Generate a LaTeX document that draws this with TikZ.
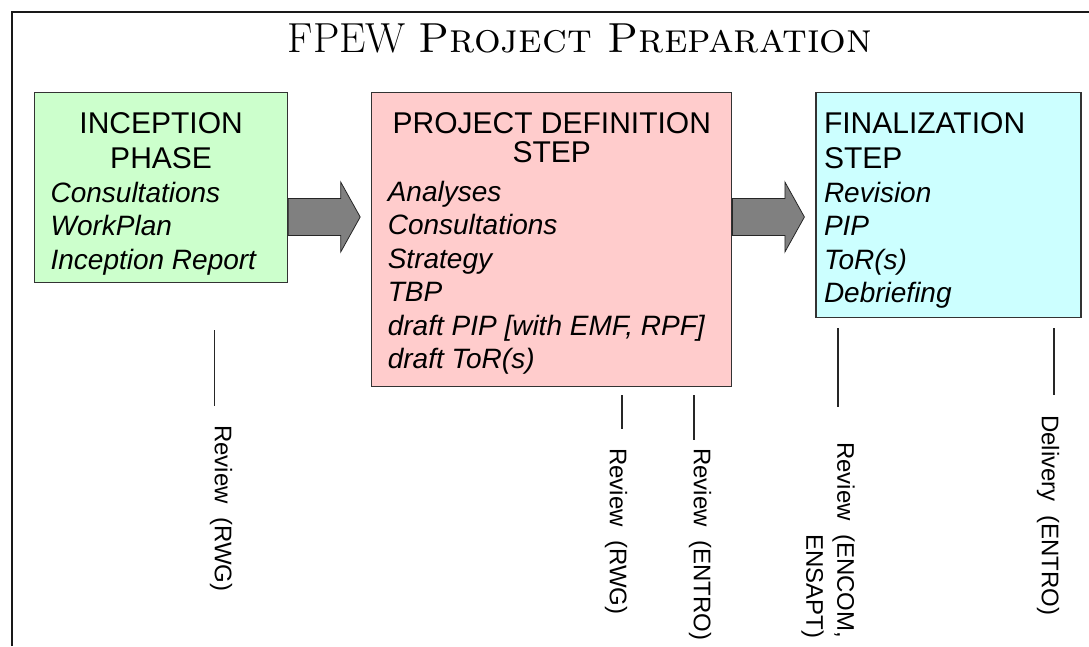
\documentclass[tikz,border=0pt]{standalone}
\usepackage{fontspec}
\setsansfont{Liberation Sans}
\usetikzlibrary{positioning,calc}
\definecolor{incepfill}{RGB}{204,255,204}
\definecolor{defnfill}{RGB}{255,204,204}
\definecolor{finalfill}{RGB}{204,255,255}
\definecolor{arrowgray}{RGB}{128,128,128}
\newcommand{\stagehead}{\sffamily\fontsize{30}{35}\selectfont}
\newcommand{\stageitem}{\sffamily\itshape\fontsize{28}{33.5}\selectfont}

\begin{document}
\begin{tikzpicture}[
  x=1pt, y=1pt,
  stage/.style={draw=black!80, line width=1.2pt, inner ysep=20pt, inner xsep=16pt,
    anchor=north west},
  blockarrow/.style={fill=arrowgray, draw=black!85, line width=0.8pt, line join=miter},
  tick/.style={draw=black!85, line width=1.2pt},
  milestone/.style={rotate=-90, anchor=west, inner sep=0pt,
    font=\sffamily\fontsize{24}{31}\selectfont},
]
\useasboundingbox (0,0) rectangle (1089,-646);
% frame and title
\draw[line width=2pt, black!90] (11.5,-646) -- (11.5,-12.3) -- (1089,-12.3);
\node[anchor=base, font=\fontsize{42}{50}\selectfont] (title) at (580,-52)
  {FPEW \textsc{Project Preparation}};
% the three stages
\node[stage, fill=incepfill] (incep) at (34,-92)
  {\parbox[c][150pt][t]{221pt}{\centering\stagehead INCEPTION\\PHASE\par
   \raggedright\stageitem Consultations\\WorkPlan\\Inception Report}};
\node[stage, fill=defnfill, right=83pt of incep.north east, anchor=north west] (defn)
  {\parbox[c][254pt][t]{328pt}{\centering\stagehead PROJECT DEFINITION\\[-6pt]STEP\par
   \vspace{5pt}
   \raggedright\stageitem Analyses\\Consultations\\Strategy\\TBP\\
   draft PIP [with EMF, RPF]\\draft ToR(s)}};
\node[stage, fill=finalfill, inner xsep=8pt, right=83pt of defn.north east,
  anchor=north west] (final)
  {\parbox[c][185pt][t]{249pt}{\raggedright\stagehead FINALIZATION\\STEP\par
   \stageitem Revision\\PIP\\ToR(s)\\Debriefing}};
% block arrows between stages
\coordinate (mid) at (0,-217);
\foreach \a/\b in {incep/defn, defn/final}
  \filldraw[blockarrow] ($(\a.east |- mid)+(0,18.5)$)
    -- ($(\b.west |- mid)+(-30.5,18.5)$) -- ++(0,16.5)
    -- ($(\b.west |- mid)+(-11,0)$)
    -- ($(\b.west |- mid)+(-30.5,-35)$) -- ++(0,16.5)
    -- ($(\a.east |- mid)+(0,-18.5)$) -- cycle;
% review and delivery marks
\foreach \x/\ya/\yb in {214.5/330/406, 622/395/429, 694/395/440, 838/328/407, 1054/328/395}
  \draw[tick] (\x,-\ya) -- (\x,-\yb);
\node[milestone] (rvincep) at (221,-425) {Review~~(RWG)};
\node[milestone] (rvdefn) at (616,-448) {Review~~(RWG)};
\node[milestone] (rventro) at (700,-448) {Review~~(ENTRO)};
\node[milestone, align=right] (rvencom) at (828,-442) {Review~~(ENCOM,\\ENSAPT)};
\node[milestone] (delivery) at (1048,-415) {Delivery~~(ENTRO)};
\end{tikzpicture}
\end{document}
